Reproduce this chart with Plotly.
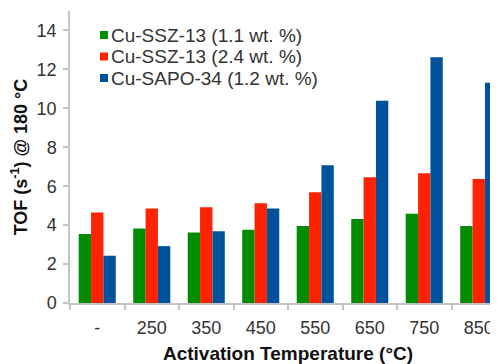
import plotly.graph_objects as go

categories = ["-", "250", "350", "450", "550", "650", "750", "850"]
series_names = ["Cu-SSZ-13 (1.1 wt. %)", "Cu-SSZ-13 (2.4 wt. %)", "Cu-SAPO-34 (1.2 wt. %)"]
ssz13_11 = [3.55, 3.83, 3.62, 3.76, 3.96, 4.31, 4.58, 3.96]
ssz13_24 = [4.65, 4.85, 4.92, 5.13, 5.69, 6.46, 6.67, 6.37]
sapo34_12 = [2.43, 2.92, 3.69, 4.85, 7.08, 10.39, 12.63, 11.31]
colors = ["#008C00", "#FF2200", "#00529B"]
y_ticks = [0, 2, 4, 6, 8, 10, 12, 14]

fig = go.Figure()
for name, vals, col in zip(series_names, [ssz13_11, ssz13_24, sapo34_12], colors):
    fig.add_trace(go.Bar(x=categories, y=vals, name=name, marker_color=col,
                         marker_line_width=0, showlegend=False))

# Compact legend (tight spacing like the original), drawn in paper coordinates
W, H = 498, 364
ml, mr, mt, mb = 62, 0, 3, 69
pw, ph = W - ml - mr, H - mt - mb
leg_left_px, leg_top_px, leg_step_px, sq_px = 30, 24, 21.5, 8
for i, (name, col) in enumerate(zip(series_names, colors)):
    cy = 1 - (leg_top_px + i * leg_step_px) / ph
    x0 = leg_left_px / pw
    fig.add_shape(type="rect", xref="paper", yref="paper",
                  x0=x0, x1=x0 + sq_px / pw,
                  y0=cy - sq_px / 2 / ph, y1=cy + sq_px / 2 / ph,
                  fillcolor=col, line_width=0)
    fig.add_annotation(xref="paper", yref="paper", x=x0 + (sq_px + 1) / pw, y=cy,
                       xanchor="left", yanchor="middle", showarrow=False,
                       text=name, font=dict(size=19, color="#333333"))

font_family = "Liberation Sans, Arial, sans-serif"
fig.update_layout(
    width=W, height=H,
    margin=dict(l=ml, r=mr, t=mt, b=mb, autoexpand=False),
    paper_bgcolor="white", plot_bgcolor="white",
    barmode="group", bargap=0.32, bargroupgap=0,
    font=dict(family=font_family, size=18, color="#333333"),
    showlegend=False,
    xaxis=dict(type="category", range=[-0.5, 7.5], automargin=False,
               showline=True, linecolor="#c4c4c4", linewidth=1.5,
               ticks="outside", tickson="boundaries", ticklen=5,
               tickcolor="#c4c4c4", tickwidth=1.5, ticklabelstandoff=8,
               showgrid=False, zeroline=False,
               tickfont=dict(size=18, color="#333333"),
               title=dict(text="<b>Activation Temperature (°C)</b>",
                          font=dict(size=19, color="#111111"), standoff=9)),
    yaxis=dict(range=[0, 15], tickvals=y_ticks, automargin=False,
               showline=True, linecolor="#c4c4c4", linewidth=1.5,
               ticks="outside", ticklen=5, tickcolor="#c4c4c4", tickwidth=1.5,
               ticklabelstandoff=3,
               showgrid=False, zeroline=False,
               tickfont=dict(size=18, color="#333333"),
               title=dict(text="<b>TOF (s<sup>-1</sup>) @ 180 °C</b>",
                          font=dict(size=18, color="#111111"), standoff=5)),
)

fig.write_html("out.html")
